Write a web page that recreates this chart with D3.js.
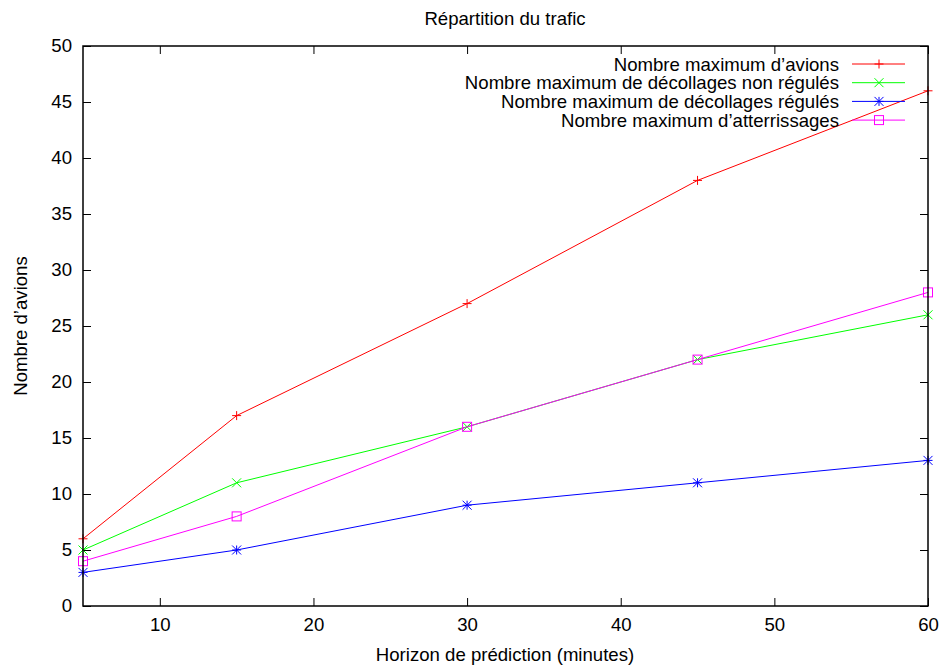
<!DOCTYPE html>
<html lang="fr">
<head>
<meta charset="UTF-8">
<title>Répartition du trafic</title>
<script src="https://cdn.jsdelivr.net/npm/d3@7"></script>
<style>
	body { margin: 0; background: #fff; }
	text { font-family: "Liberation Sans", Arial, sans-serif; fill: #000; }
</style>
</head>
<body>
<script>
// horizon de prédiction (minutes)
var horizons = [5, 15, 30, 45, 60];
var maxAvions = [6, 17, 27, 38, 46];
var decNonRegules = [5, 11, 16, 22, 26];
var decRegules = [3, 5, 9, 11, 13];
var atterrissages = [4, 8, 16, 22, 28];

var xTicks = [10, 20, 30, 40, 50, 60];
var yTicks = [0, 5, 10, 15, 20, 25, 30, 35, 40, 45, 50];

var series = [
	{name: "Nombre maximum d\u2019avions", values: maxAvions, color: "#ff0000", mark: "plus"},
	{name: "Nombre maximum de décollages non régulés", values: decNonRegules, color: "#00ff00", mark: "cross"},
	{name: "Nombre maximum de décollages régulés", values: decRegules, color: "#0000ff", mark: "star"},
	{name: "Nombre maximum d\u2019atterrissages", values: atterrissages, color: "#ff00ff", mark: "square"}
];

var W = 945, H = 667;
var margin = {top: 46, left: 83, bottom: 61, right: 17};
var width = W - margin.left - margin.right;
var height = H - margin.top - margin.bottom;
var fs = 18.6;

var svg = d3.select("body").append("svg")
	.attr("width", W)
	.attr("height", H);

var x = d3.scaleLinear().domain([5, 60]).range([0, width]);
var y = d3.scaleLinear().domain([0, 50]).range([height, 0]);

var g = svg.append("g")
	.attr("transform", "translate(" + margin.left + "," + margin.top + ")");

// draw a gnuplot-style point symbol
function marker(sel, type, color) {
	var s = 4.5;
	if (type === "plus") {
		sel.append("path").attr("d", "M" + (-s) + ",0H" + s + "M0," + (-s) + "V" + s);
	} else if (type === "cross") {
		sel.append("path").attr("d", "M" + (-s) + "," + (-s) + "L" + s + "," + s + "M" + (-s) + "," + s + "L" + s + "," + (-s));
	} else if (type === "star") {
		sel.append("path").attr("d", "M" + (-s) + ",0H" + s + "M0," + (-s) + "V" + s +
			"M" + (-s) + "," + (-s) + "L" + s + "," + s + "M" + (-s) + "," + s + "L" + s + "," + (-s));
	} else {
		sel.append("rect").attr("x", -s).attr("y", -s).attr("width", 2 * s).attr("height", 2 * s);
	}
	sel.selectAll("path, rect").attr("stroke", color).attr("stroke-width", 1).attr("fill", "none");
}

// axes with inward ticks, mirrored on both sides
var tickLen = 8;
g.append("g")
	.attr("transform", "translate(0," + height + ")")
	.call(d3.axisBottom(x).tickValues(xTicks).tickSizeInner(-tickLen).tickSizeOuter(0).tickPadding(12))
	.call(function (a) { a.select(".domain").remove(); });
g.append("g")
	.call(d3.axisTop(x).tickValues(xTicks).tickSizeInner(-tickLen).tickSizeOuter(0).tickFormat(""))
	.call(function (a) { a.select(".domain").remove(); });
g.append("g")
	.call(d3.axisLeft(y).tickValues(yTicks).tickSizeInner(-tickLen).tickSizeOuter(0).tickPadding(11))
	.call(function (a) { a.select(".domain").remove(); });
g.append("g")
	.attr("transform", "translate(" + width + ",0)")
	.call(d3.axisRight(y).tickValues(yTicks).tickSizeInner(-tickLen).tickSizeOuter(0).tickFormat(""))
	.call(function (a) { a.select(".domain").remove(); });
g.selectAll(".tick line").attr("stroke", "#000");
g.selectAll(".tick text")
	.attr("font-family", "Liberation Sans, Arial, sans-serif")
	.attr("font-size", fs);

var line = d3.line()
	.x(function (d, i) { return x(horizons[i]); })
	.y(function (d) { return y(d); });

series.forEach(function (s) {
	g.append("path")
		.datum(s.values)
		.attr("d", line)
		.attr("fill", "none")
		.attr("stroke", s.color)
		.attr("stroke-width", 1);
	s.values.forEach(function (v, i) {
		var m = g.append("g").attr("transform", "translate(" + x(horizons[i]) + "," + y(v) + ")");
		marker(m, s.mark, s.color);
	});
});

// frame
g.append("rect")
	.attr("width", width).attr("height", height)
	.attr("fill", "none").attr("stroke", "#000").attr("stroke-width", 1.5);

// legend
var legend = svg.append("g").attr("transform", "translate(0,64)");
series.forEach(function (s, i) {
	var row = legend.append("g").attr("transform", "translate(0," + (i * 18.7) + ")");
	row.append("text")
		.attr("x", 839).attr("y", 0).attr("dy", "0.35em")
		.attr("text-anchor", "end").attr("font-size", fs)
		.text(s.name);
	row.append("line")
		.attr("x1", 852).attr("x2", 905).attr("y1", 0).attr("y2", 0)
		.attr("stroke", s.color).attr("stroke-width", 1);
	var m = row.append("g").attr("transform", "translate(879,0)");
	marker(m, s.mark, s.color);
});

// titles
svg.append("text")
	.attr("x", 505).attr("y", 18).attr("dy", "0.35em")
	.attr("text-anchor", "middle").attr("font-size", fs)
	.text("Répartition du trafic");
svg.append("text")
	.attr("x", 505).attr("y", 654).attr("dy", "0.35em")
	.attr("text-anchor", "middle").attr("font-size", fs)
	.text("Horizon de prédiction (minutes)");
svg.append("text")
	.attr("transform", "translate(20," + (margin.top + height / 2) + ") rotate(-90)")
	.attr("dy", "0.35em")
	.attr("text-anchor", "middle").attr("font-size", fs)
	.text("Nombre d\u2019avions");
</script>
</body>
</html>
